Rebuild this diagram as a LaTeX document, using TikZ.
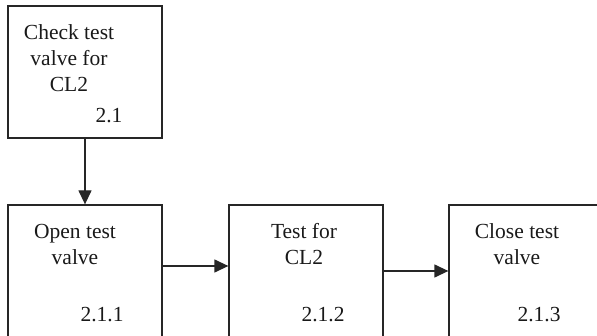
\documentclass[tikz,border=0pt]{standalone}
\usepackage{fontspec}
\setmainfont{Liberation Serif}
\usepackage{tikz}
\usetikzlibrary{arrows.meta}

\begin{document}
\begin{tikzpicture}[x=1pt,y=-1pt,>={Triangle[length=14pt,width=13pt]},
  stepbox/.style={draw=black!85,line width=1.3pt,minimum width=154pt,inner sep=0pt},
  steptext/.style={font=\fontsize{21.5}{26}\selectfont,align=center,inner sep=0pt,anchor=north,text=black!90},
  stepnum/.style={font=\fontsize{21.5}{26}\selectfont,inner sep=0pt,anchor=base,text=black!90},
  flow/.style={->,line width=1.3pt,draw=black!85}]
\useasboundingbox (0,0) rectangle (597,336);
\clip (0,0) rectangle (597,336);
\node[stepbox,minimum height=132pt] (check) at (85,72) {};
\node[stepbox,minimum height=140pt] (open) at (85,275) {};
\node[stepbox,minimum height=140pt] (test) at (306,275) {};
\node[stepbox,minimum height=140pt] (close) at (526,275) {};
\node[steptext] (checkt) at (69,24) {Check test\\valve for\\CL2};
\node[stepnum] (checkn) at (109,123) {2.1};
\node[steptext] (opent) at (75,224) {Open test\\valve};
\node[stepnum] (openn) at (102,322) {2.1.1};
\node[steptext] (testt) at (304,223) {Test for\\CL2};
\node[stepnum] (testn) at (323,322) {2.1.2};
\node[steptext] (closet) at (517,223) {Close test\\valve};
\node[stepnum] (closen) at (539,322) {2.1.3};
\coordinate (row1) at (0,266);
\coordinate (row2) at (0,271);
\draw[flow] (check.south) -- (open.north);
\draw[flow] (open.east |- row1) -- (test.west |- row1);
\draw[flow] (test.east |- row2) -- (close.west |- row2);
\end{tikzpicture}
\end{document}
